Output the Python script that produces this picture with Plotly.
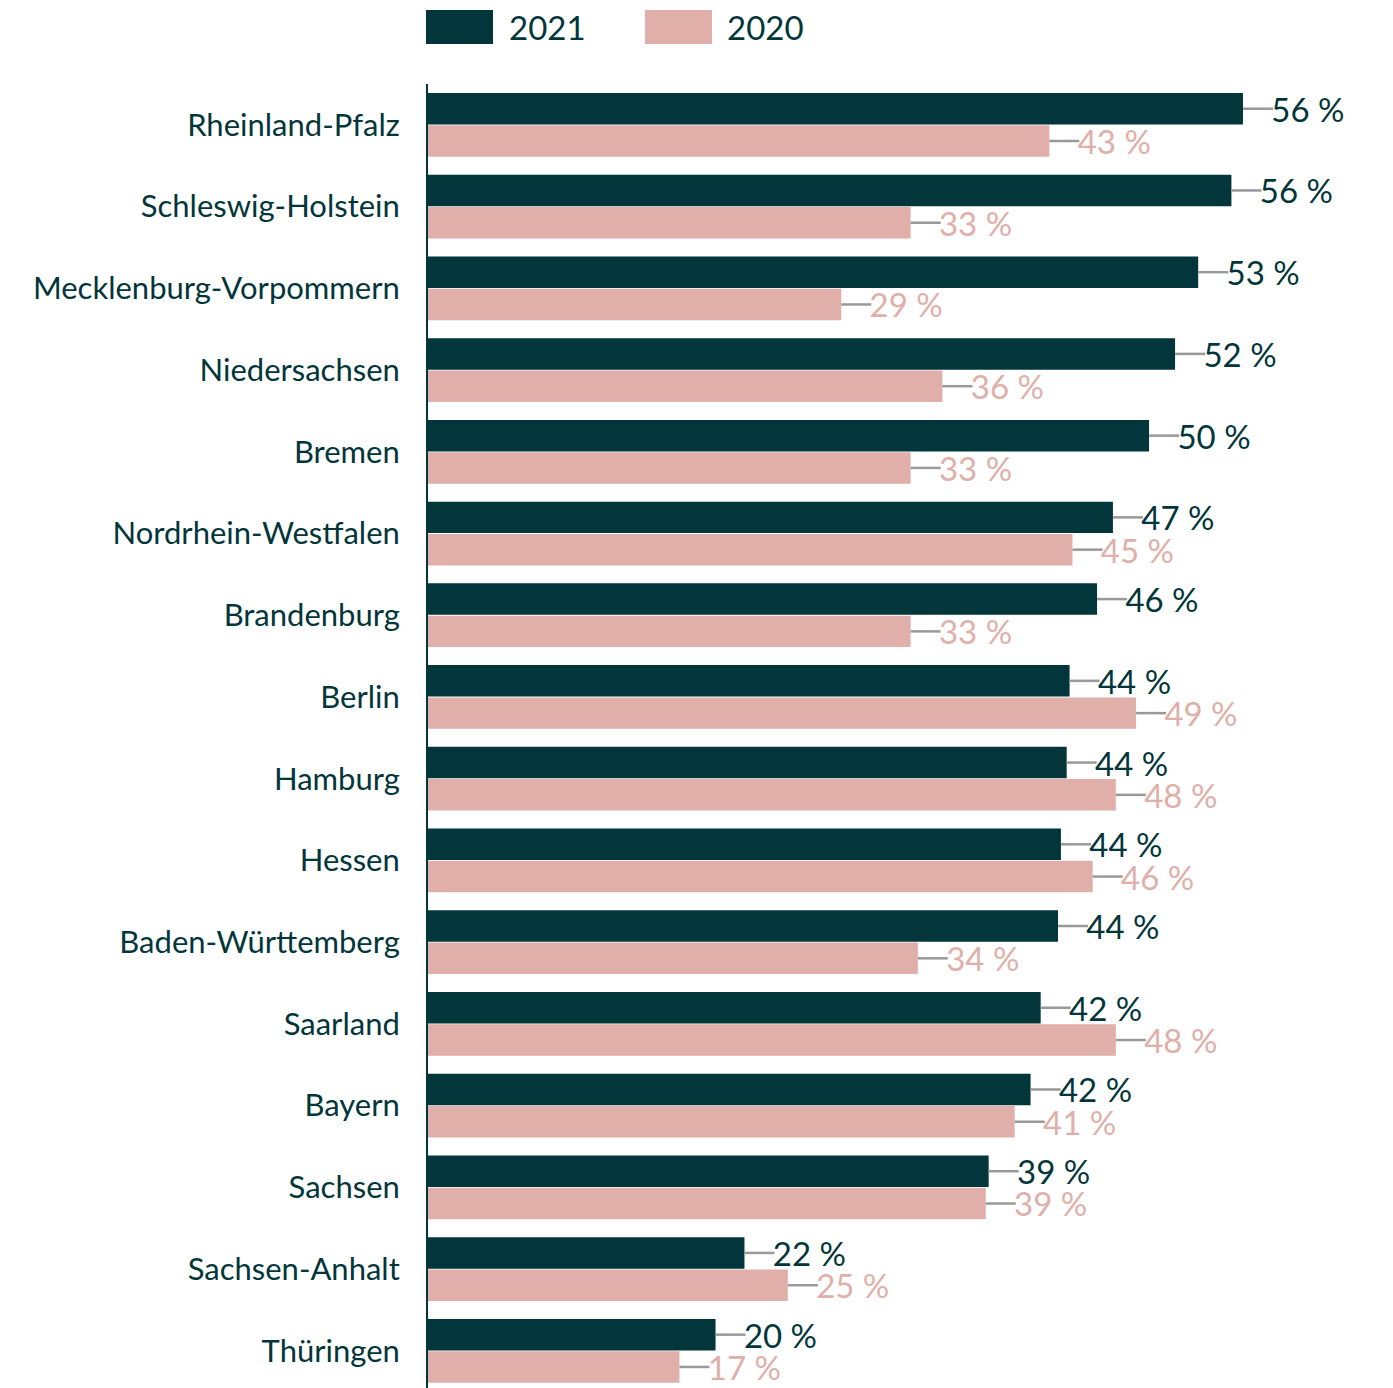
import plotly.graph_objects as go

# Anteil je Bundesland, 2021 und 2020 (in %)
states = [
    "Rheinland-Pfalz", "Schleswig-Holstein", "Mecklenburg-Vorpommern",
    "Niedersachsen", "Bremen", "Nordrhein-Westfalen", "Brandenburg",
    "Berlin", "Hamburg", "Hessen", "Baden-Württemberg", "Saarland",
    "Bayern", "Sachsen", "Sachsen-Anhalt", "Thüringen",
]
share_2021 = [56.4, 55.6, 53.3, 51.7, 49.9, 47.4, 46.3, 44.4,
              44.2, 43.8, 43.6, 42.4, 41.7, 38.8, 21.9, 19.9]
share_2020 = [43.0, 33.4, 28.6, 35.6, 33.4, 44.6, 33.4, 49.0,
              47.6, 46.0, 33.9, 47.6, 40.6, 38.6, 24.9, 17.4]

DARK = "#02363a"
PINK = "#e0afa9"
LEADER = "#999999"
FONT = "Lato"

# page has an 8px body margin, so the figure is drawn 8px in from the top-left
W, H = 1385, 1380
L, T = 420, 76          # plot area origin inside the figure
PX_PER_PCT = 14.45
LEAD = 30 / PX_PER_PCT  # leader line length in data units
PAD = "\u00a0" * 3      # push label past the leader line


def px(x):
    return (x - 8 - L) / (W - L)


def py(y):
    return (H - (y - 8)) / (H - T)


fig = go.Figure()

for name, vals, col in [("2021", share_2021, DARK), ("2020", share_2020, PINK)]:
    fig.add_trace(go.Bar(
        y=states,
        x=vals,
        name=name,
        orientation="h",
        marker=dict(color=col, line=dict(width=0)),
        error_x=dict(type="constant", value=LEAD, valueminus=0, symmetric=False,
                     width=0, thickness=2.5, color=LEADER),
        texttemplate=PAD + "%{x:.0f} %",
        textposition="outside",
        textfont=dict(family=FONT, size=33, color=col),
        constraintext="none",
        cliponaxis=False,
        hoverinfo="skip",
        showlegend=False,
    ))

# legend drawn as large swatches above the plot
legend_items = [("2021", DARK, 426, 493, 507), ("2020", PINK, 645, 712, 725)]
for label, col, x0, x1, xt in legend_items:
    fig.add_shape(type="rect", xref="paper", yref="paper",
                  x0=px(x0), x1=px(x1), y0=py(44), y1=py(10),
                  fillcolor=col, line=dict(width=0))
    fig.add_annotation(text=label, xref="paper", yref="paper",
                       x=px(xt), y=py(27), xanchor="left", yanchor="middle",
                       showarrow=False,
                       font=dict(family=FONT, size=33, color=DARK))

fig.update_layout(
    width=W, height=H,
    margin=dict(l=L, r=0, t=T, b=0),
    barmode="group",
    bargap=0.21,
    bargroupgap=0.025,
    plot_bgcolor="white",
    paper_bgcolor="white",
    font=dict(family=FONT, color=DARK),
    xaxis=dict(range=[0, (W - L) / PX_PER_PCT], visible=False, fixedrange=True),
    yaxis=dict(
        categoryorder="array",
        categoryarray=states,
        range=[15.455, -0.5],
        showline=True, linecolor=DARK, linewidth=2,
        showgrid=False, zeroline=False,
        ticks="", ticklabelstandoff=20,
        tickfont=dict(family=FONT, size=31, color=DARK),
        fixedrange=True,
    ),
)

fig.write_html("out.html")
